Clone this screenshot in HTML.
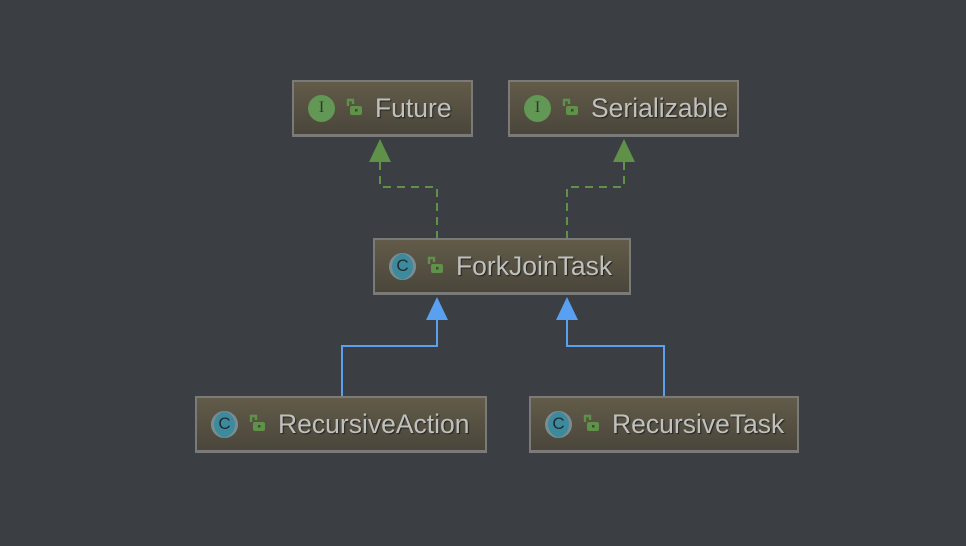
<!DOCTYPE html>
<html><head><style>
body{margin:0;background:#3b3e43;width:966px;height:546px;overflow:hidden;position:relative;font-family:"Liberation Sans",sans-serif}
.b{position:absolute;box-sizing:border-box;border:2px solid #7a7a78;border-bottom-width:3px;background:linear-gradient(#625b49,#4a463b);height:57px;display:flex;align-items:center;padding-left:14px;color:#c0c0bc;font-size:26.5px;text-shadow:1px 1px 1px #222}
.i{width:27px;height:27px;border-radius:50%;background:#629755;color:#2d3a28;font-family:"Liberation Serif",serif;font-size:16px;display:flex;align-items:center;justify-content:center;text-shadow:none;margin-right:10px}
.c{width:27px;height:27px;border-radius:50%;background:#3d8a9c;color:#1f2b33;font-size:17px;display:flex;align-items:center;justify-content:center;text-shadow:none;margin-right:10px;box-shadow:inset 3px 0 0 #7a8c92,inset -3px 0 0 #7a8c92}
.l{width:20px;margin-right:10px}
</style></head><body>
<svg width="966" height="546" style="position:absolute;left:0;top:0">
<g stroke="#5f9148" stroke-width="2" fill="none" stroke-dasharray="8,6">
<polyline points="380,162 380,187 437,187 437,238"/>
<polyline points="624,162 624,187 567,187 567,238"/>
</g>
<polygon points="380,139 369,162 391,162" fill="#5f9148"/>
<polygon points="624,139 613,162 635,162" fill="#5f9148"/>
<g stroke="#5aa0f0" stroke-width="2" fill="none">
<polyline points="437,320 437,346 342,346 342,396"/>
<polyline points="567,320 567,346 664,346 664,396"/>
</g>
<polygon points="437,297 426,320 448,320" fill="#5aa0f0"/>
<polygon points="567,297 556,320 578,320" fill="#5aa0f0"/>
</svg>
<svg width="0" height="0" style="position:absolute"><defs><g id="lk"><path d="M3 8 V2 H8 V6" stroke="#5f9148" stroke-width="2.4" fill="none"/><rect x="5" y="8" width="12" height="9" rx="2" fill="#5f9148"/><rect x="10" y="11" width="2.5" height="2.5" fill="#3b4a30"/></g></defs></svg>
<div class="b" style="left:292px;top:80px;width:181px"><div class="i">I</div><svg class="l" width="20" height="20"><use href="#lk"/></svg>Future</div>
<div class="b" style="left:508px;top:80px;width:231px"><div class="i">I</div><svg class="l" width="20" height="20"><use href="#lk"/></svg>Serializable</div>
<div class="b" style="left:373px;top:238px;width:258px"><div class="c">C</div><svg class="l" width="20" height="20"><use href="#lk"/></svg>ForkJoinTask</div>
<div class="b" style="left:195px;top:396px;width:292px"><div class="c">C</div><svg class="l" width="20" height="20"><use href="#lk"/></svg>RecursiveAction</div>
<div class="b" style="left:529px;top:396px;width:270px"><div class="c">C</div><svg class="l" width="20" height="20"><use href="#lk"/></svg>RecursiveTask</div>
</body></html>
